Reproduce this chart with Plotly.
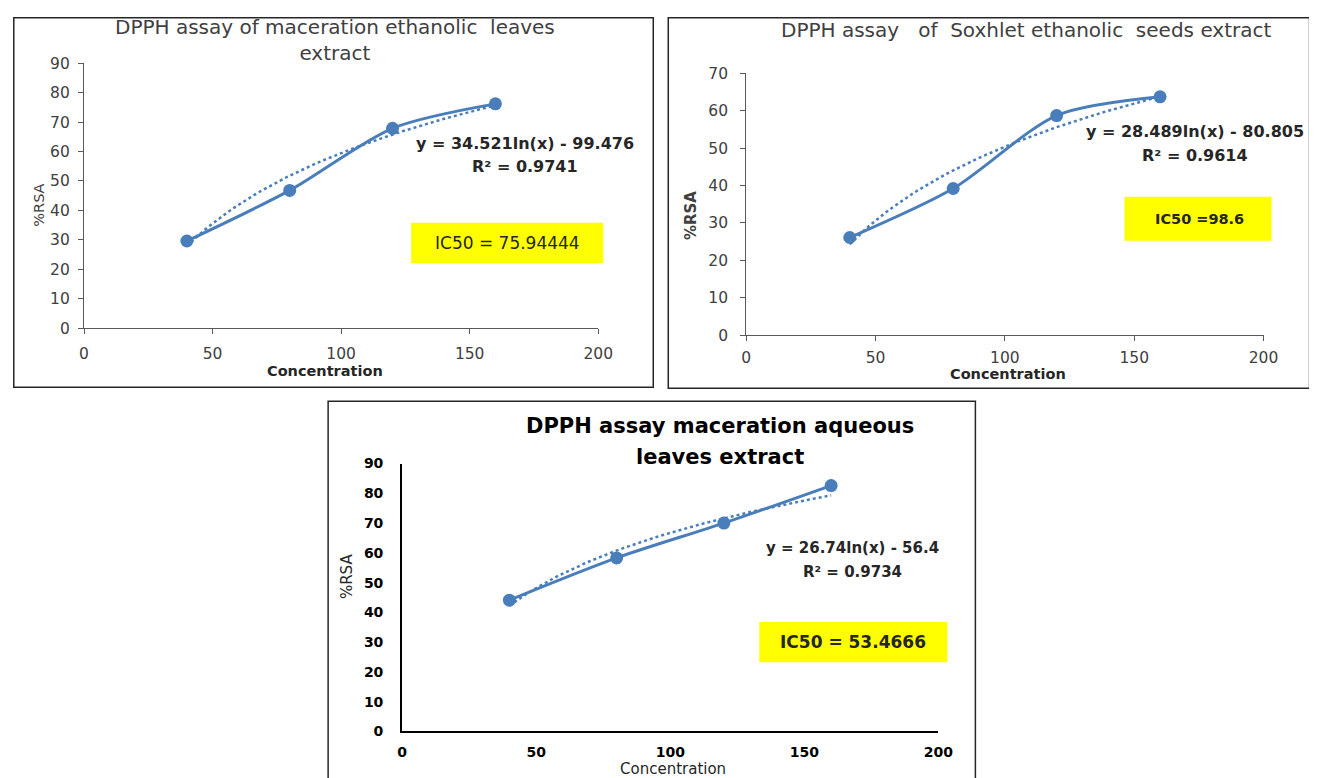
import numpy as np
import plotly.graph_objects as go

# ---------------- data ----------------
conc = [40, 80, 120, 160]
rsa_mac_eth = [29.6, 46.8, 67.9, 76.2]
rsa_sox_eth = [26.1, 39.2, 58.7, 63.7]
rsa_mac_aq = [44.1, 58.3, 70.0, 82.6]

coef_mac_eth = [34.521, -99.476]
coef_sox_eth = [28.489, -80.805]
coef_mac_aq = [26.74, -56.4]

titles = ["DPPH assay of maceration ethanolic \u00a0leaves<br>extract",
          "DPPH assay \u00a0 of \u00a0Soxhlet ethanolic \u00a0seeds extract",
          "DPPH assay maceration aqueous", "leaves extract"]
eq_lines = [["y = 34.521ln(x) - 99.476", "R\u00b2 = 0.9741"],
            ["y = 28.489ln(x) - 80.805", "R\u00b2 = 0.9614"],
            ["y = 26.74ln(x) - 56.4", "R\u00b2 = 0.9734"]]
ic50_texts = ["IC50 = 75.94444", "IC50 =98.6", "IC50 = 53.4666"]
x_ticks = [0, 50, 100, 150, 200]

# map target picture pixels -> figure pixels (calibrated page offset/scale)
OX, SX, OY, SY = 13.0, 0.9845, 16.9, 0.9738
W, H = 1325, 782
def fx(x): return (x - OX) / SX
def fy(y): return (y - OY) / SY
def px(x): return min(max(fx(x), 0.8), W - 0.8) / W
def py(y): return 1 - min(max(fy(y), 0.8), H - 0.8) / H

BLUE = "#4a7ebb"
FONT = "DejaVu Sans"

fig = go.Figure()

series = [rsa_mac_eth, rsa_sox_eth, rsa_mac_aq]
coefs = [coef_mac_eth, coef_sox_eth, coef_mac_aq]
for i, (ys, cf) in enumerate(zip(series, coefs)):
    xa = "x" if i == 0 else f"x{i+1}"
    ya = "y" if i == 0 else f"y{i+1}"
    xt = np.linspace(conc[0], conc[-1], 60)
    yt = cf[0] * np.log(xt) + cf[1]
    fig.add_trace(go.Scatter(x=xt, y=yt, mode="lines", xaxis=xa, yaxis=ya,
                             line=dict(color=BLUE, width=2.5, dash="dot"),
                             showlegend=False, hoverinfo="skip"))
    fig.add_trace(go.Scatter(x=conc, y=ys, mode="lines+markers", xaxis=xa, yaxis=ya,
                             line=dict(color=BLUE, width=3, shape="spline", smoothing=0.8),
                             marker=dict(color=BLUE, size=13),
                             showlegend=False))

# plot area pixel boxes: (x0, x200, ytop, ybottom)
boxes = [(84, 598, 63, 327), (746, 1263, 73, 334), (402, 938, 462, 729)]
yranges = [[0, 90], [0, 70], [0, 90]]
x_standoff = [6, 3, 7]
y_standoff = [5, 9, 14]

layout = dict(width=W, height=H, margin=dict(l=0, r=0, t=0, b=0),
              paper_bgcolor="white", plot_bgcolor="white",
              font=dict(family=FONT, color="#404040"))

for i, (bx, yr) in enumerate(zip(boxes, yranges)):
    xk = "xaxis" if i == 0 else f"xaxis{i+1}"
    yk = "yaxis" if i == 0 else f"yaxis{i+1}"
    ya_name = "y" if i == 0 else f"y{i+1}"
    xa_name = "x" if i == 0 else f"x{i+1}"
    if i < 2:
        axcol, axw, ticks = "#595959", 1.2, "outside"
        tf = dict(size=15.5, color="#404040", family=FONT)
    else:
        axcol, axw, ticks = "black", 2, ""
        tf = dict(size=14, color="black", family=FONT, weight="bold")
    layout[xk] = dict(domain=[px(bx[0]), px(bx[1])], range=[0, 200], anchor=ya_name,
                      tickvals=x_ticks, showgrid=False, zeroline=False, showline=True,
                      linecolor=axcol, linewidth=axw, ticks=ticks, ticklen=5, tickcolor=axcol,
                      tickfont=tf, ticklabelstandoff=x_standoff[i])
    layout[yk] = dict(domain=[py(bx[3]), py(bx[2])], range=yr, anchor=xa_name, dtick=10,
                      showgrid=False, zeroline=False, showline=True,
                      linecolor=axcol, linewidth=axw, ticks=ticks, ticklen=5, tickcolor=axcol,
                      tickfont=tf, ticklabelstandoff=y_standoff[i])

fig.update_layout(**layout)

shapes = []
# chart borders
for (x0, y0, x1, y1) in [(6, 5, 653, 386), (668, 5, 1309, 387), (328, 400, 975, 800)]:
    shapes.append(dict(type="rect", xref="paper", yref="paper",
                       x0=px(x0), x1=px(x1), y0=py(y1), y1=py(y0),
                       line=dict(color="#262626", width=1.5), fillcolor="rgba(0,0,0,0)"))
# yellow IC50 boxes
ic_boxes = [(411, 222, 603, 262), (1124, 196, 1271, 240), (759, 620, 947, 660)]
for (x0, y0, x1, y1) in ic_boxes:
    shapes.append(dict(type="rect", xref="paper", yref="paper",
                       x0=px(x0), x1=px(x1), y0=py(y1), y1=py(y0),
                       line=dict(width=0), fillcolor="#ffff00", layer="below"))
fig.update_layout(shapes=shapes)

ann = []
def A(text, x, y, size, bold=False, color="#404040", angle=0):
    ann.append(dict(text=text, x=px(x), y=py(y), xref="paper", yref="paper",
                    showarrow=False, xanchor="center", yanchor="middle", textangle=angle,
                    font=dict(family=FONT, size=size, color=color,
                              weight="bold" if bold else "normal")))

# titles
A(titles[0], 335, 40, 20)
A(titles[1], 1026, 30, 20)
A(titles[2], 720, 425, 21, bold=True, color="black")
A(titles[3], 720, 455, 21, bold=True, color="black")
# axis titles
A("Concentration", 325, 370, 14.5, bold=True, color="#262626")
A("%RSA", 39, 205, 14.5, angle=-90)
A("Concentration", 1008, 373, 14.5, bold=True, color="#262626")
A("%RSA", 690, 215, 15, bold=True, angle=-90)
A("Concentration", 673, 766, 15, color="#262626")
A("%RSA", 347, 575, 15, color="#262626", angle=-90)
# equations
eq_pos = [(525, 143, 166, 16), (1195, 131, 155, 16), (852, 546, 570, 15)]
for (lines, (ex, ey1, ey2, es)) in zip(eq_lines, eq_pos):
    A(lines[0], ex, ey1, es, bold=True, color="#262626")
    A(lines[1], ex, ey2, es, bold=True, color="#262626")
# IC50
A(ic50_texts[0], 507, 242, 17, color="#262626")
A(ic50_texts[1], 1199, 218, 14.5, bold=True, color="#262626")
A(ic50_texts[2], 853, 640, 17, bold=True, color="#262626")
fig.update_layout(annotations=ann)

fig.write_html("out.html")
